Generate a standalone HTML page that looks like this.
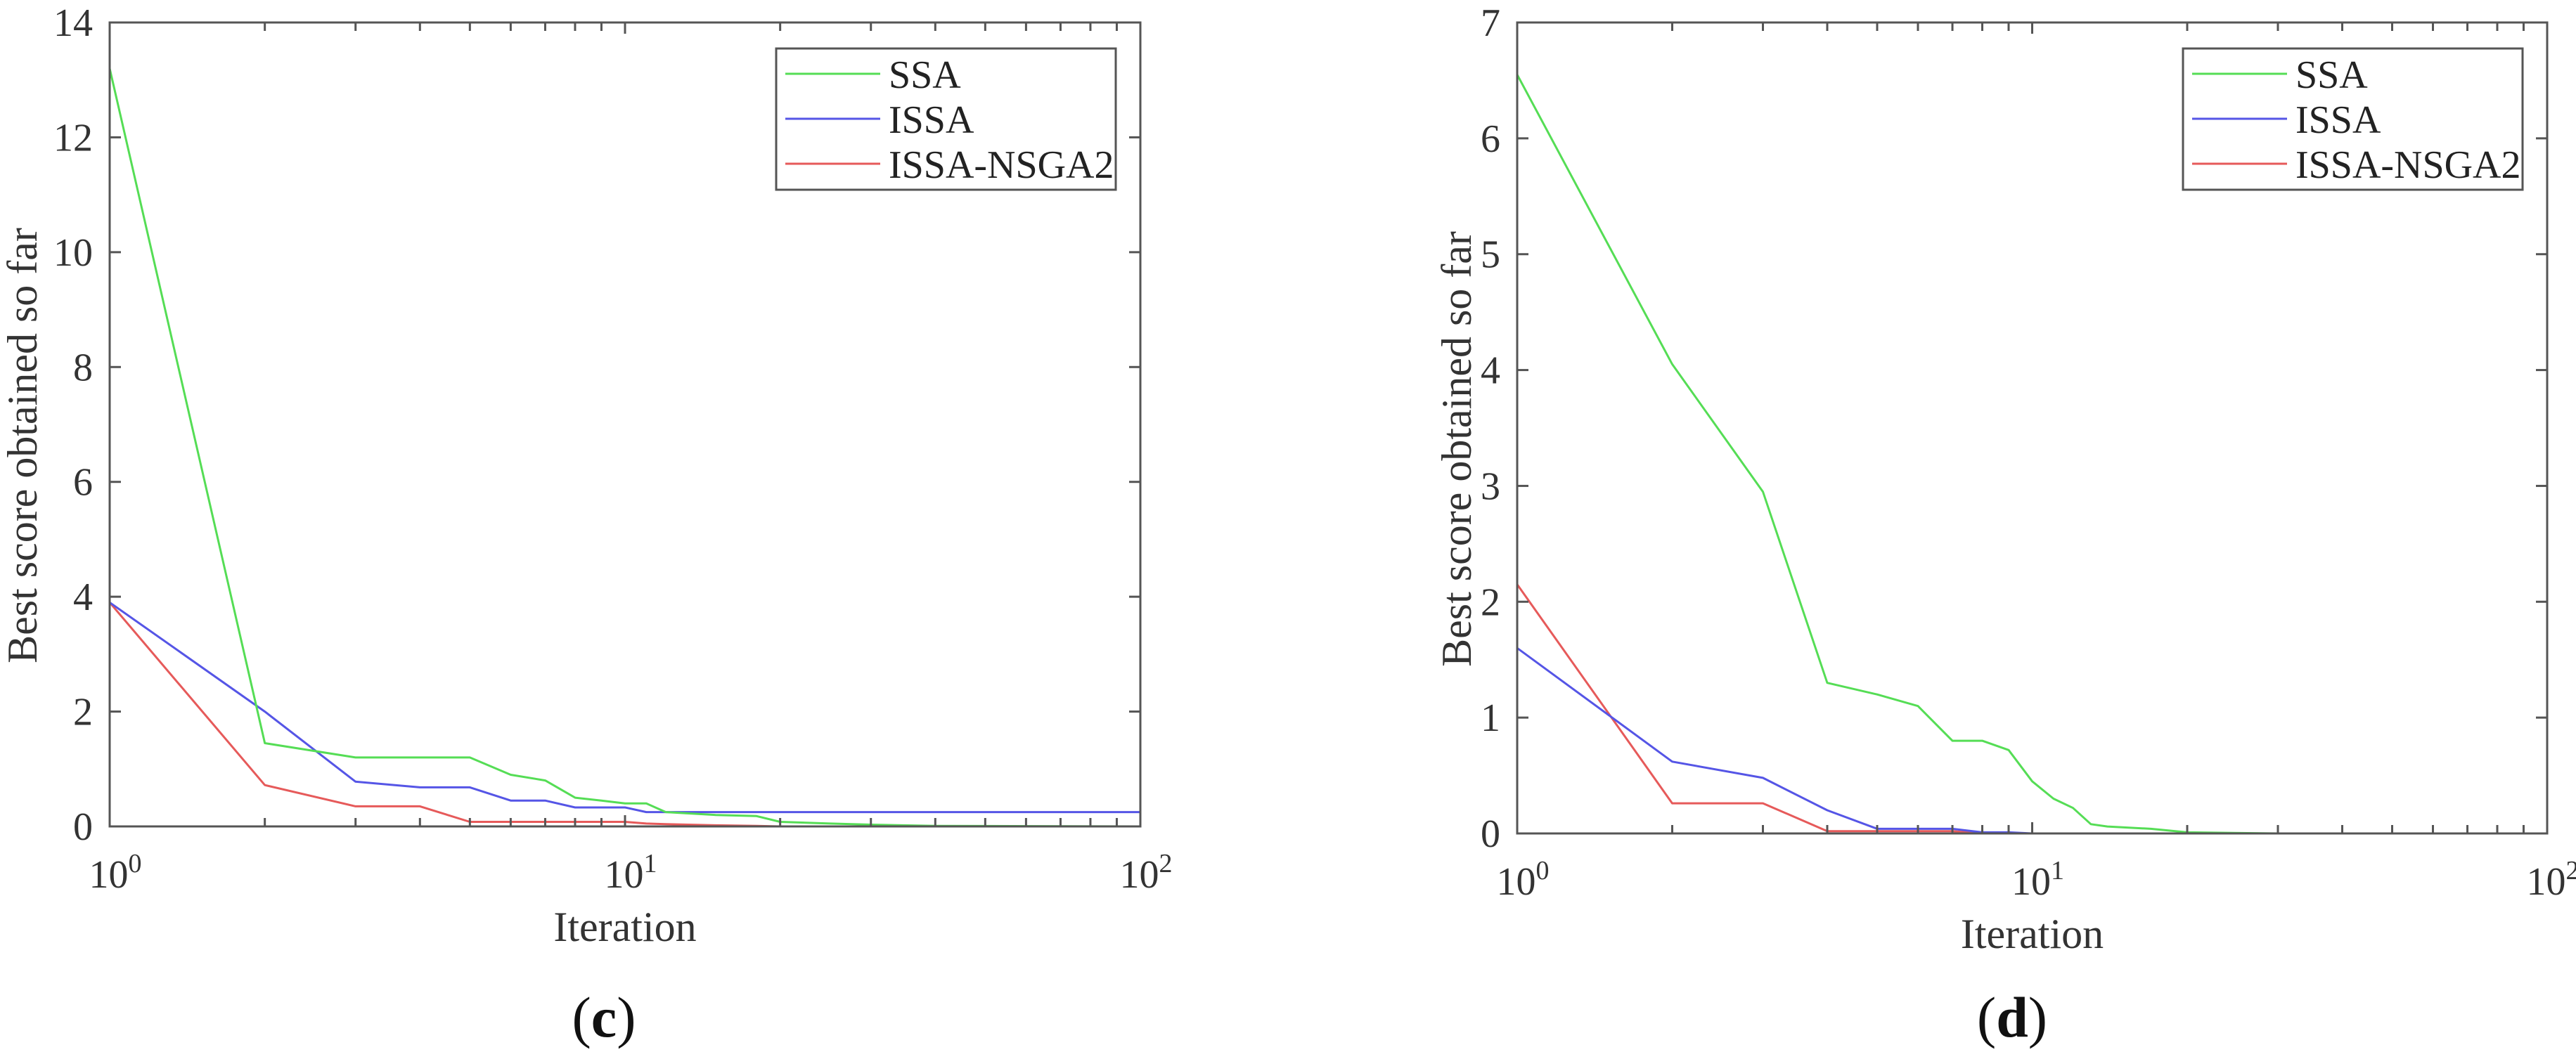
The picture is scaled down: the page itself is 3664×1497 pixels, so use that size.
<!DOCTYPE html>
<html><head><meta charset="utf-8"><style>
html,body{margin:0;padding:0;background:#fff;}
svg{display:block;font-family:"Liberation Serif",serif;}
</style></head><body>
<svg id="fig" width="3664" height="1497" viewBox="0 0 3664 1497" xmlns="http://www.w3.org/2000/svg"></svg>
<script>
const iterC = [1,2,3,4,5,6,7,8,9,10,11,12,15,18,20,25,30,40,100];
const ssaC  = [13.2,1.45,1.2,1.2,1.2,0.9,0.8,0.5,0.45,0.4,0.4,0.25,0.2,0.18,0.08,0.05,0.03,0.01,0];
const issaC = [3.9,2.0,0.78,0.68,0.68,0.45,0.45,0.33,0.33,0.33,0.25,0.25,0.25,0.25,0.25,0.25,0.25,0.25,0.25];
const nsgaC = [3.9,0.72,0.35,0.35,0.08,0.08,0.08,0.08,0.08,0.08,0.05,0.04,0.02,0.01,0,0,0,0,0];
const yTicksC = [0,2,4,6,8,10,12,14];

const iterD = [1,2,3,4,5,6,7,8,9,10,11,12,13,14,17,20,30,100];
const ssaD  = [6.55,4.05,2.95,1.3,1.2,1.1,0.8,0.8,0.72,0.45,0.3,0.22,0.08,0.06,0.04,0.01,0,0];
const issaD = [1.6,0.62,0.48,0.2,0.04,0.04,0.04,0.01,0.01,0,0,0,0,0,0,0,0,0];
const nsgaD = [2.15,0.26,0.26,0.02,0.02,0.02,0.02,0,0,0,0,0,0,0,0,0,0,0];
const yTicksD = [0,1,2,3,4,5,6,7];

const seriesNames = ["SSA","ISSA","ISSA-NSGA2"];
const xTickExps = [0,1,2];

const NS="http://www.w3.org/2000/svg";
const svg=document.getElementById('fig');
function mk(tag,attrs,parent){const e=document.createElementNS(NS,tag);for(const k in attrs)e.setAttribute(k,attrs[k]);(parent||svg).appendChild(e);return e;}
const colors=["#55dd55","#5555e6","#e65a5a"];

function panel(opt){
  const g=mk('g',{});
  
  
  const L=opt.L,R=opt.R,T=opt.T,B=opt.B,ymax=opt.ymax;
  const sx=v=>L+(Math.log10(v)/2)*(R-L);
  const sy=v=>B-(v/ymax)*(B-T);
  // series
  const ys=[opt.ssa,opt.issa,opt.nsga];
  [2,1,0].forEach(i=>{
    const pts=opt.x.map((xv,j)=>sx(xv).toFixed(1)+','+sy(ys[i][j]).toFixed(1)).join(' ');
    const p=mk('polyline',{points:pts,fill:'none',stroke:colors[i],'stroke-width':3,'stroke-linejoin':'round'},g);
    
    
  });
  // axes box
  const box=mk('rect',{x:L,y:T,width:R-L,height:B-T,fill:'none',stroke:'#555','stroke-width':3},g);
  
  
  // x ticks
  for(let d=0;d<2;d++){for(let m=1;m<=9;m++){const v=m*Math.pow(10,d);if(v===1)continue;const x=sx(v);const len=(m===1)?16:12;
    mk('line',{x1:x,y1:B,x2:x,y2:B-len,stroke:'#555','stroke-width':3},g);
    mk('line',{x1:x,y1:T,x2:x,y2:T+len,stroke:'#555','stroke-width':3},g);}}
  xTickExps.forEach(e=>{const x=sx(Math.pow(10,e));
    const t=mk('text',{x:x+8,y:B+87,'font-size':56,'text-anchor':'middle',fill:'#333'},g);
    
    
    t.textContent='10';
    const s=mk('tspan',{dy:-22,'font-size':38},t);s.textContent=String(e);});
  // y ticks
  opt.yt.forEach(v=>{const y=sy(v);
    if(v>0&&v<ymax){mk('line',{x1:L,y1:y,x2:L+16,y2:y,stroke:'#555','stroke-width':3},g);
    mk('line',{x1:R,y1:y,x2:R-16,y2:y,stroke:'#555','stroke-width':3},g);}
    const t=mk('text',{x:L-24,y:y+19,'font-size':56,'text-anchor':'end',fill:'#333'},g);
    
    
    t.textContent=v;});
  // axis titles
  const xt=mk('text',{x:(L+R)/2,y:B+163,'font-size':60,'text-anchor':'middle',fill:'#333'},g);
  
  
  xt.textContent='Iteration';
  const yx=opt.ylabX, yy=(T+B)/2+30;
  const yt=mk('text',{x:yx,y:yy,'font-size':60,'text-anchor':'middle',fill:'#333',transform:`rotate(-90 ${yx} ${yy})`},g);
  
  
  yt.textContent='Best score obtained so far';
  // legend
  const lg=mk('g',{},g);
  
  
  const lw=483,lx=R-35-lw,ly=T+37;
  mk('rect',{x:lx,y:ly,width:lw,height:201,fill:'#fff',stroke:'#555','stroke-width':3},lg);
  seriesNames.forEach((n,i)=>{const y=ly+36+i*64;
    const e=mk('g',{},lg);
    
    
    mk('line',{x1:lx+13,y1:y,x2:lx+148,y2:y,stroke:colors[i],'stroke-width':3},e);
    const t=mk('text',{x:lx+160,y:y+20,'font-size':56,fill:'#222'},e);t.textContent=n;});
  // caption
  const c=mk('text',{x:opt.capX,y:1475,'font-size':82,'text-anchor':'middle',fill:'#111'},g);
  
  
  c.textContent='(';
  const b=mk('tspan',{'font-weight':'bold'},c);b.textContent=opt.cap;
  const c2=mk('tspan',{},c);c2.textContent=')';
}
panel({name:'chart-c',L:156,R:1622,T:32,B:1176,ymax:14,x:iterC,ssa:ssaC,issa:issaC,nsga:nsgaC,yt:yTicksC,ylabX:52,capX:859,cap:'c'});
panel({name:'chart-d',L:2158,R:3623,T:32,B:1186,ymax:7,x:iterD,ssa:ssaD,issa:issaD,nsga:nsgaD,yt:yTicksD,ylabX:2092,capX:2862,cap:'d'});
</script>
</body></html>
